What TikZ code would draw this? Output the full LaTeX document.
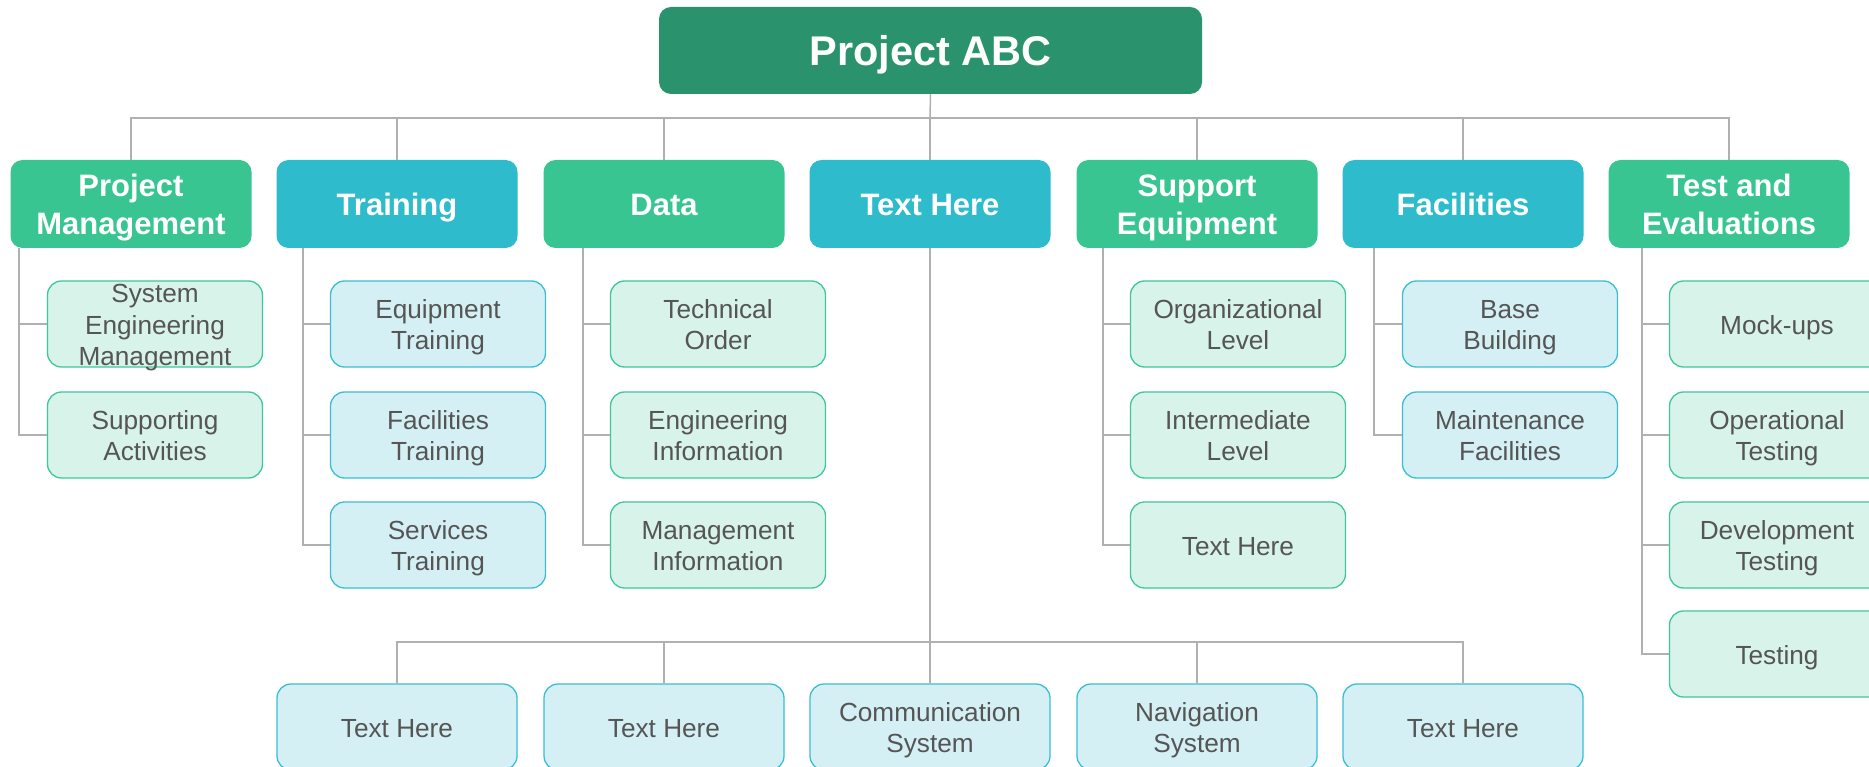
\documentclass[tikz,border=0pt]{standalone}
\usepackage{fontspec}
\setmainfont{Liberation Sans}
\definecolor{rootgreen}{RGB}{42,147,110}
\definecolor{hdgreen}{RGB}{57,197,145}
\definecolor{hdblue}{RGB}{46,187,204}
\definecolor{chgreen}{RGB}{216,243,233}
\definecolor{chgreenb}{RGB}{61,201,150}
\definecolor{chblue}{RGB}{212,240,244}
\definecolor{chblueb}{RGB}{57,190,210}
\definecolor{txtgray}{RGB}{85,85,85}
\definecolor{linegray}{RGB}{176,176,176}
\newcommand{\rfont}{\fontsize{41.5}{50}\selectfont\bfseries}
\newcommand{\hfont}{\fontsize{31}{37.6}\selectfont\bfseries}
\newcommand{\cfont}{\fontsize{26.2}{31.4}\selectfont}
\tikzset{
  conn/.style={draw=linegray, line width=1.5pt},
  rootbox/.style={fill=rootgreen, rounded corners=12pt, minimum width=543pt, minimum height=87pt, inner sep=0pt},
  hbox/.style={rounded corners=12pt, minimum width=241pt, minimum height=88pt, inner sep=0pt},
  hgreen/.style={hbox, fill=hdgreen},
  hblue/.style={hbox, fill=hdblue},
  cbox/.style={rounded corners=14pt, minimum width=215pt, minimum height=86pt, inner sep=0pt, line width=1.3pt},
  cgreen/.style={cbox, fill=chgreen, draw=chgreenb},
  cblue/.style={cbox, fill=chblue, draw=chblueb},
  bblue/.style={cblue, minimum width=240pt},
  rtext/.style={text=white, font=\rfont, align=center, inner sep=0pt, yshift=-5.5pt},
  htext/.style={text=white, font=\hfont, align=center, inner sep=0pt, yshift=-4.2pt},
  ctext/.style={text=txtgray, font=\cfont, align=center, inner sep=0pt, yshift=-3.8pt},
}
% box node + centred text node
\newcommand{\bnode}[6]{%
  \node[#4] (#1) at (#2,#3) {};
  \node[#5] (#1t) at (#1) {#6};}
\begin{document}
\begin{tikzpicture}[x=1pt, y=-1pt]
\useasboundingbox (0,0) rectangle (1869,767);
\clip (0,0) rectangle (1869,767);
\fill[white] (0,0) rectangle (1869,767);

% root
\bnode{root}{930.5}{50.5}{rootbox}{rtext}{\strut Project ABC}

% headers
\bnode{pm}{131}{204}{hgreen}{htext}{\strut Project\\\strut Management}
\bnode{tr}{397}{204}{hblue}{htext}{\strut Training}
\bnode{da}{664}{204}{hgreen}{htext}{\strut Data}
\bnode{th}{930}{204}{hblue}{htext}{\strut Text Here}
\bnode{se}{1197}{204}{hgreen}{htext}{\strut Support\\\strut Equipment}
\bnode{fa}{1463}{204}{hblue}{htext}{\strut Facilities}
\bnode{te}{1729}{204}{hgreen}{htext}{\strut Test and\\\strut Evaluations}

% top bus
\coordinate (bus) at (930,118);
\draw[conn] (root.south) -- (bus);
\draw[conn] (pm.north) -- (pm.north |- bus) -- (te.north |- bus) -- (te.north);
\foreach \h in {tr,da,th,se,fa}{\draw[conn] (\h.north) -- (\h.north |- bus);}

% PM children
\bnode{pm1}{155}{324}{cgreen}{ctext}{\strut System\\\strut Engineering\\\strut Management}
\bnode{pm2}{155}{435}{cgreen}{ctext}{\strut Supporting\\\strut Activities}
% Training children
\bnode{tr1}{438}{324}{cblue}{ctext}{\strut Equipment\\\strut Training}
\bnode{tr2}{438}{435}{cblue}{ctext}{\strut Facilities\\\strut Training}
\bnode{tr3}{438}{545}{cblue}{ctext}{\strut Services\\\strut Training}
% Data children
\bnode{da1}{718}{324}{cgreen}{ctext}{\strut Technical\\\strut Order}
\bnode{da2}{718}{435}{cgreen}{ctext}{\strut Engineering\\\strut Information}
\bnode{da3}{718}{545}{cgreen}{ctext}{\strut Management\\\strut Information}
% Support children
\bnode{se1}{1238}{324}{cgreen}{ctext}{\strut Organizational\\\strut Level}
\bnode{se2}{1238}{435}{cgreen}{ctext}{\strut Intermediate\\\strut Level}
\bnode{se3}{1238}{545}{cgreen}{ctext}{\strut Text Here}
% Facilities children
\bnode{fa1}{1510}{324}{cblue}{ctext}{\strut Base\\\strut Building}
\bnode{fa2}{1510}{435}{cblue}{ctext}{\strut Maintenance\\\strut Facilities}
% Test children
\bnode{te1}{1777}{324}{cgreen}{ctext}{\strut Mock-ups}
\bnode{te2}{1777}{435}{cgreen}{ctext}{\strut Operational\\\strut Testing}
\bnode{te3}{1777}{545}{cgreen}{ctext}{\strut Development\\\strut Testing}
\bnode{te4}{1777}{654}{cgreen}{ctext}{\strut Testing}

% child connectors
\foreach \c in {pm1,pm2}{\draw[conn] (pm.south west) ++(8.5,0) |- (\c.west);}
\foreach \c in {tr1,tr2,tr3}{\draw[conn] (tr.south west) ++(26.5,0) |- (\c.west);}
\foreach \c in {da1,da2,da3}{\draw[conn] (da.south west) ++(39.5,0) |- (\c.west);}
\foreach \c in {se1,se2,se3}{\draw[conn] (se.south west) ++(26.5,0) |- (\c.west);}
\foreach \c in {fa1,fa2}{\draw[conn] (fa.south west) ++(31.5,0) |- (\c.west);}
\foreach \c in {te1,te2,te3,te4}{\draw[conn] (te.south west) ++(33.5,0) |- (\c.west);}

% bottom row
\bnode{b1}{397}{727}{bblue}{ctext}{\strut Text Here}
\bnode{b2}{664}{727}{bblue}{ctext}{\strut Text Here}
\bnode{b3}{930}{727}{bblue}{ctext}{\strut Communication\\\strut System}
\bnode{b4}{1197}{727}{bblue}{ctext}{\strut Navigation\\\strut System}
\bnode{b5}{1463}{727}{bblue}{ctext}{\strut Text Here}
\coordinate (bus2) at (930,642);
\draw[conn] (th.south) -- (b3.north);
\draw[conn] (b1.north) -- (b1.north |- bus2) -- (b5.north |- bus2) -- (b5.north);
\draw[conn] (b2.north) -- (b2.north |- bus2);
\draw[conn] (b4.north) -- (b4.north |- bus2);
\end{tikzpicture}
\end{document}
